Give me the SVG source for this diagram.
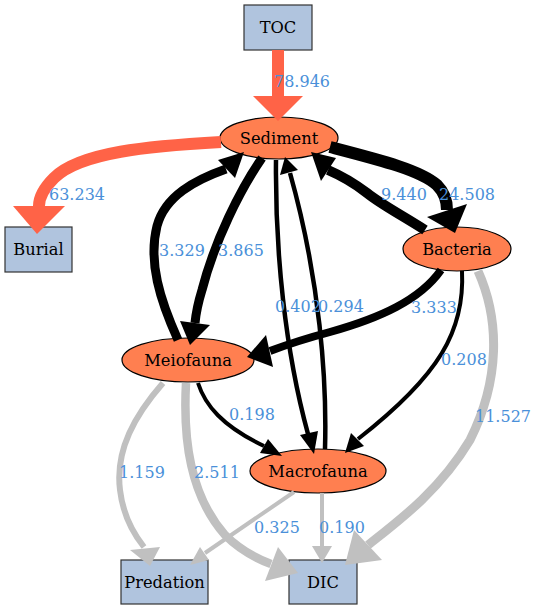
<svg xmlns="http://www.w3.org/2000/svg" width="533" height="610" viewBox="0 0 533 610">
<style>
.box{fill:#b0c4de;stroke:#333;stroke-width:1.2}
.ell{fill:#ff7f50;stroke:#000;stroke-width:1.2}
.nl{font-family:"DejaVu Serif","Liberation Serif",serif;font-size:16.3px;fill:#000;text-anchor:middle}
.el{font-family:"DejaVu Serif","Liberation Serif",serif;font-size:16px;fill:#4a90d9;text-anchor:middle}
.e{fill:none}
.r{stroke:#ff6347}
.k{stroke:#000}
.g{stroke:#c0c0c0}
.hr{fill:#ff6347}
.hk{fill:#000}
.hg{fill:#c0c0c0}
</style>
<rect width="533" height="610" fill="#fff"/>
<g id="TOC"><rect class="box" x="244" y="5" width="68" height="45"/><text class="nl" x="278" y="33">TOC</text></g>
<g id="Sediment"><ellipse class="ell" cx="279" cy="138" rx="59" ry="21"/><text class="nl" x="279" y="143.5">Sediment</text></g>
<g id="Burial"><rect class="box" x="5" y="227" width="67" height="45"/><text class="nl" x="38.5" y="255">Burial</text></g>
<g id="Bacteria"><ellipse class="ell" cx="457" cy="249" rx="54" ry="22"/><text class="nl" x="457" y="254.5">Bacteria</text></g>
<g id="Meiofauna"><ellipse class="ell" cx="188" cy="360" rx="66" ry="22"/><text class="nl" x="188" y="365.5">Meiofauna</text></g>
<g id="Macrofauna"><ellipse class="ell" cx="318" cy="471" rx="68" ry="22"/><text class="nl" x="318" y="476.5">Macrofauna</text></g>
<g id="Predation"><rect class="box" x="121" y="560" width="87" height="44"/><text class="nl" x="164.5" y="587.5">Predation</text></g>
<g id="DIC"><rect class="box" x="289" y="560" width="68" height="44"/><text class="nl" x="323" y="587.5">DIC</text></g>
<g id="connectors">
<path class="e r" stroke-width="12" d="M278,50 L278,97"/>
<polygon class="hr" points="253,96 303,96 278,121"/>
<path class="e r" stroke-width="12" d="M221,142 C150,146 80,152 54,178 C43,189 39,197 39,206"/>
<polygon class="hr" points="13,206 65,206 37,234"/>
<path class="e k" stroke-width="12" d="M330,147 C380,160 420,170 437,185 C446,194 447,203 447,210"/>
<polygon class="hk" points="427,217 467,204 455,233"/>
<path class="e k" stroke-width="10" d="M425,230 C400,214 382,205 367,193 C354,183 342,176 328,170"/>
<polygon class="hk" points="321,181 336,158 311,152"/>
<path class="e k" stroke-width="9" d="M262,158 C240,190 215,240 202,290 C198,303 196,313 195,323"/>
<polygon class="hk" points="180,321 210,325 190,345"/>
<path class="e k" stroke-width="9" d="M178,340 C160,300 148,262 157,226 C165,196 195,180 226,169"/>
<polygon class="hk" points="218,160 235,178 244,152"/>
<path class="e k" stroke-width="4.5" d="M276,160 C275,250 285,350 308,434"/>
<polygon class="hk" points="300,435 318,431 314,454"/>
<path class="e k" stroke-width="4.5" d="M325,449 C327,380 320,280 290,173"/>
<polygon class="hk" points="280,175 298,170 285,157"/>
<path class="e k" stroke-width="8" d="M441,270 C420,300 380,318 330,332 C300,340 286,345 270,351"/>
<polygon class="hk" points="266,335 273,367 247,357"/>
<path class="e k" stroke-width="4" d="M462,271 C465,330 440,375 358,439"/>
<polygon class="hk" points="351,433 364,446 345,453"/>
<path class="e g" stroke-width="9" d="M478,271 C500,320 500,380 470,440 C440,490 400,520 368,545"/>
<polygon class="hg" points="354,530 382,560 345,565"/>
<path class="e k" stroke-width="4" d="M198,383 C205,405 222,426 264,446"/>
<polygon class="hk" points="268,439 260,453 282,456"/>
<path class="e g" stroke-width="6" d="M163,383 C135,415 115,450 120,490 C123,515 132,532 144,547"/>
<polygon class="hg" points="130,550 160,547 150,566"/>
<path class="e g" stroke-width="8.5" d="M186,383 C183,440 190,495 225,535 C240,550 255,558 271,564"/>
<polygon class="hg" points="265,581 278,547 298,573"/>
<path class="e g" stroke-width="4" d="M294,492 L205,553"/>
<polygon class="hg" points="209,560 200,547 190,565"/>
<path class="e g" stroke-width="4" d="M322,493 L322,546"/>
<polygon class="hg" points="312,546 332,546 322,563"/>
</g>
<g id="labels">
<text class="el" x="302" y="87">78.946</text>
<text class="el" x="77" y="200">63.234</text>
<text class="el" x="404" y="200">9.440</text>
<text class="el" x="467" y="200">24.508</text>
<text class="el" x="182" y="256">3.329</text>
<text class="el" x="241" y="256">3.865</text>
<text class="el" x="298" y="312">0.402</text>
<text class="el" x="341" y="312">0.294</text>
<text class="el" x="434" y="313">3.333</text>
<text class="el" x="464" y="365">0.208</text>
<text class="el" x="503" y="422">11.527</text>
<text class="el" x="252" y="420">0.198</text>
<text class="el" x="142" y="478">1.159</text>
<text class="el" x="217" y="478">2.511</text>
<text class="el" x="277" y="533">0.325</text>
<text class="el" x="342" y="533">0.190</text>
</g>
</svg>
